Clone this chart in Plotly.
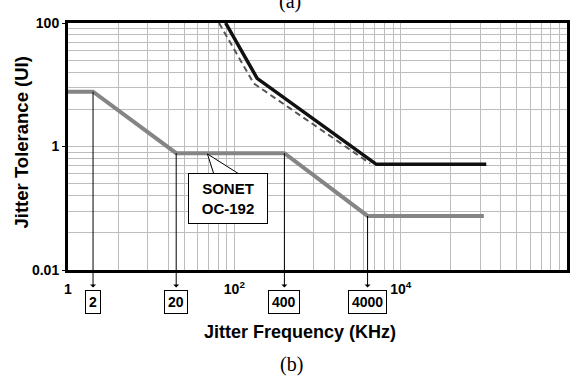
import math
import plotly.graph_objects as go

# ---------------- data ----------------
# SONET OC-192 jitter tolerance mask (gray)
sonet_freq_khz = [1, 2, 20, 400, 4000, 1e5]
sonet_ui = [7.7, 7.7, 0.78, 0.78, 0.075, 0.075]

# measured device tolerance (black solid)
device_freq_khz = [78.5, 188, 5100, 1.07e5]
device_ui = [100, 12.7, 0.515, 0.515]

# second curve (dark dashed)
dashed_freq_khz = [65.5, 171, 4300]
dashed_ui = [100, 10.5, 0.53]

# corner frequencies marked with arrows
corner_freq_khz = [2, 20, 400, 4000]
corner_ui = [7.7, 0.78, 0.78, 0.075]
corner_labels = ["2", "20", "400", "4000"]

# axis ticks
x_tickvals = [1, 100, 10000]
x_ticktext = ["1", "10<sup>2</sup>", "10<sup>4</sup>"]
y_tickvals = [0.01, 1, 100]
y_ticktext = ["0.01", "1", "100"]

# ---------------- layout geometry ----------------
W, H = 573, 383
PL, PR, PT, PB = 68, 570, 23, 270
FONT = "Liberation Sans, Arial, sans-serif"
SERIF = "Liberation Serif, Times New Roman, serif"


def px_x(px):
    return (px - PL) / (PR - PL)


def px_y(py):
    return (PB - py) / (PB - PT)


# graph-paper grid (decorative) : 3 grid decades across, 2 down
grid_x = [m * 10 ** d for d in range(3) for m in range(1, 10)] + [1000]
grid_y = [m * 10 ** d for d in range(2) for m in range(1, 10)] + [100]

fig = go.Figure()

# invisible trace to activate the grid axes
fig.add_trace(go.Scatter(x=[10], y=[10], xaxis="x2", yaxis="y2", mode="markers",
                         marker=dict(opacity=0), hoverinfo="skip", showlegend=False))

fig.add_trace(go.Scatter(x=sonet_freq_khz, y=sonet_ui, mode="lines",
                         line=dict(color="#858585", width=4), showlegend=False))
fig.add_trace(go.Scatter(x=dashed_freq_khz, y=dashed_ui, mode="lines",
                         line=dict(color="#555555", width=2, dash="6px,4px"), showlegend=False))
fig.add_trace(go.Scatter(x=device_freq_khz, y=device_ui, mode="lines",
                         line=dict(color="#111111", width=3.5), showlegend=False))

annotations = []
box_log = 2 - (302 - PT) / ((PB - PT) / 4)  # label boxes just below the x axis
for f, v, lab in zip(corner_freq_khz, corner_ui, corner_labels):
    annotations.append(dict(
        x=math.log10(f), y=math.log10(v), xref="x", yref="y",
        ax=math.log10(f), ay=box_log, axref="x", ayref="y",
        text="<b>%s</b>" % lab, showarrow=True, arrowside="start",
        arrowhead=2, arrowsize=1.8, arrowwidth=1, arrowcolor="black",
        standoff=0, startstandoff=3,
        font=dict(family=FONT, size=14, color="black"),
        bordercolor="black", borderwidth=1, borderpad=3, bgcolor="white"))

# callout box
annotations.append(dict(
    x=px_x(228.7), y=px_y(198.3), xref="paper", yref="paper",
    text="<b>SONET<br>OC-192</b>", showarrow=False,
    font=dict(family=FONT, size=15, color="black"),
    width=72, height=43, borderpad=3, bordercolor="black", borderwidth=1,
    bgcolor="white", xanchor="center", yanchor="middle"))

# axis titles and panel labels
annotations.append(dict(x=px_x(301), y=px_y(331.5), xref="paper", yref="paper",
                        text="<b>Jitter Frequency (KHz)</b>", showarrow=False,
                        font=dict(family=FONT, size=18, color="black"),
                        xanchor="center", yanchor="middle"))
annotations.append(dict(x=px_x(21.7), y=px_y(142.5), xref="paper", yref="paper",
                        text="<b>Jitter Tolerance (UI)</b>", showarrow=False, textangle=-90,
                        font=dict(family=FONT, size=18.5, color="black"),
                        xanchor="center", yanchor="middle"))
annotations.append(dict(x=px_x(293), y=px_y(364), xref="paper", yref="paper",
                        text="(b)", showarrow=False,
                        font=dict(family=SERIF, size=20, color="black"),
                        xanchor="center", yanchor="middle"))
annotations.append(dict(x=px_x(291), y=px_y(1), xref="paper", yref="paper",
                        text="(a)", showarrow=False,
                        font=dict(family=SERIF, size=20, color="black"),
                        xanchor="center", yanchor="middle"))

# callout pointer wedge
tip = (208.3, 154)
b1 = (215, 175)
b2 = (241.7, 175)
path = "M %f,%f L %f,%f L %f,%f Z" % (px_x(tip[0]), px_y(tip[1]), px_x(b1[0]), px_y(b1[1]),
                                      px_x(b2[0]), px_y(b2[1]))
shapes = [dict(type="path", path=path, xref="paper", yref="paper",
               fillcolor="white", line=dict(color="black", width=1), layer="above")]

GRID = "#bdbdbd"
fig.update_layout(
    width=W, height=H, autosize=False,
    margin=dict(l=PL, r=W - PR, t=PT, b=H - PB, pad=0),
    paper_bgcolor="white", plot_bgcolor="white",
    font=dict(family=FONT, color="black"),
    showlegend=False,
    xaxis=dict(type="log", range=[0, 6], showgrid=False, zeroline=False,
               tickmode="array", tickvals=x_tickvals, ticktext=x_ticktext,
               tickfont=dict(family=FONT, size=14, color="black", weight="bold"),
               ticks="", ticklabelstandoff=4,
               showline=True, mirror=True, linecolor="black", linewidth=3),
    yaxis=dict(type="log", range=[-2, 2], showgrid=False, zeroline=False,
               tickmode="array", tickvals=y_tickvals, ticktext=y_ticktext,
               tickfont=dict(family=FONT, size=14, color="black", weight="bold"),
               ticks="outside", ticklen=3, tickcolor="black", tickwidth=1,
               showline=True, mirror=True, linecolor="black", linewidth=3),
    xaxis2=dict(type="log", range=[0, 3], overlaying="x", anchor="y", side="top",
                tickmode="array", tickvals=grid_x, showticklabels=False, ticks="",
                showgrid=True, gridcolor=GRID, gridwidth=1, zeroline=False, showline=False),
    yaxis2=dict(type="log", range=[0, 2], overlaying="y", anchor="x", side="right",
                tickmode="array", tickvals=grid_y, showticklabels=False, ticks="",
                showgrid=True, gridcolor=GRID, gridwidth=1, zeroline=False, showline=False),
    annotations=annotations,
    shapes=shapes,
)

fig.write_html("out.html", config={"displayModeBar": False},
               post_script="document.body.style.margin='0';")
